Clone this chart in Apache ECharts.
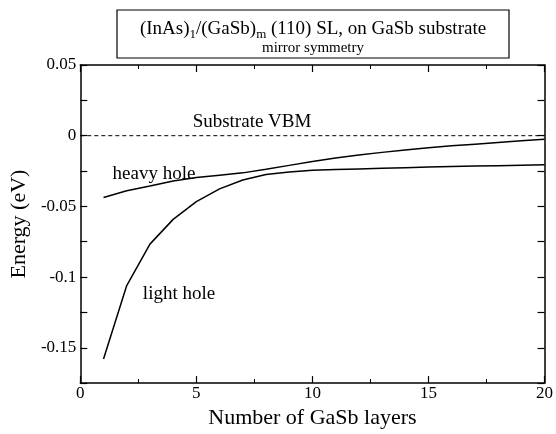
<!DOCTYPE html>
<html>
<head>
<meta charset="utf-8">
<script src="https://cdn.jsdelivr.net/npm/echarts@6/dist/echarts.min.js"></script>
<style>html,body{margin:0;padding:0;background:#fff}#c{width:556px;height:434px}</style>
</head>
<body>
<div id="c"></div>
<script>
const layers = [1,2,3,4,5,6,7,8,9,10,11,12,13,14,15,16,17,18,19,20];
const heavyHole = [-0.0437,-0.039,-0.0356,-0.032,-0.0295,-0.0279,-0.0263,-0.0238,-0.021,-0.0182,-0.0158,-0.0137,-0.0118,-0.0101,-0.0086,-0.0072,-0.006,-0.0048,-0.0036,-0.0025];
const lightHole = [-0.158,-0.106,-0.0767,-0.0592,-0.0467,-0.0376,-0.0313,-0.0274,-0.0256,-0.0245,-0.024,-0.0235,-0.023,-0.0226,-0.0222,-0.0218,-0.0215,-0.0212,-0.0209,-0.0206];
const vbmLevel = 0;
const xTicks = [0,5,10,15,20];
const yTicks = [0.05,0,-0.05,-0.1,-0.15];
const titleParts = [['(InAs)',0],['1',1],['/(GaSb)',0],['m',1],[' (110) SL, on GaSb substrate',0]];

const FONT = '"Liberation Serif","DejaVu Serif",serif';
const chart = echarts.init(document.getElementById('c'));
const pair = (xs, ys) => xs.map((x,i)=>[x, ys[i]]);
const fmt = v => { const r = Math.round(v*1000)/1000; return (Math.abs(r) < 1e-9) ? '0' : String(r); };

const line = {show:true,onZero:false,lineStyle:{color:'#000',width:1.5}};
const tick = {show:true,inside:true,length:7,lineStyle:{color:'#000',width:1.2}};
const minor = {show:true,splitNumber:2,length:4,lineStyle:{color:'#000',width:1}};

// title pieces with real subscripts
const ctx = document.createElement('canvas').getContext('2d');
const mainFont = '19px ' + FONT, subFont = '13px ' + FONT;
const widths = titleParts.map(p => { ctx.font = p[1] ? subFont : mainFont; return ctx.measureText(p[0]).width; });
const total = widths.reduce((a,b)=>a+b,0);
let cx = 313 - total/2;
const titleGraphics = titleParts.map((p,i) => {
  const g = {type:'text',x:cx,y:p[1]?35:29,z:11,style:{text:p[0],font:p[1]?subFont:mainFont,fill:'#000',align:'left',verticalAlign:'middle'}};
  cx += widths[i];
  return g;
});

chart.setOption({
  animation:false,
  backgroundColor:'#fff',
  grid:{left:78,right:7,top:65,bottom:38,containLabel:false},
  xAxis:[
    {type:'value',min:0,max:20,interval:5,position:'bottom',axisLine:line,axisTick:tick,minorTick:minor,splitLine:{show:false},
      name:'Number of GaSb layers',nameLocation:'middle',nameGap:16,
      nameTextStyle:{fontFamily:FONT,fontSize:22,color:'#000'},
      axisLabel:{fontFamily:FONT,fontSize:17,color:'#000',margin:2,
        formatter:v=>xTicks.includes(v)?String(v):''}},
    {type:'value',min:0,max:20,interval:5,position:'top',axisLine:line,axisTick:tick,minorTick:minor,splitLine:{show:false},axisLabel:{show:false}}
  ],
  yAxis:[
    {type:'value',min:-0.175,max:0.05,interval:0.025,position:'left',axisLine:line,axisTick:tick,splitLine:{show:false},
      name:'Energy (eV)',nameLocation:'middle',nameGap:42,
      nameTextStyle:{fontFamily:FONT,fontSize:22,color:'#000'},
      axisLabel:{fontFamily:FONT,fontSize:17,color:'#000',margin:4,
        formatter:v=>{const r=Math.round(v*1000)/1000; return yTicks.some(t=>Math.abs(t-r)<1e-9)?fmt(r):'';}}},
    {type:'value',min:-0.175,max:0.05,interval:0.025,position:'right',axisLine:line,axisTick:tick,splitLine:{show:false},axisLabel:{show:false}}
  ],
  series:[
    {type:'line',name:'heavy hole',data:pair(layers,heavyHole),showSymbol:false,symbol:'none',
      lineStyle:{color:'#000',width:1.5}},
    {type:'line',name:'light hole',data:pair(layers,lightHole),showSymbol:false,symbol:'none',
      lineStyle:{color:'#000',width:1.5}},
    {type:'line',name:'Substrate VBM',data:[[0,vbmLevel],[20,vbmLevel]],showSymbol:false,symbol:'none',
      lineStyle:{color:'#000',width:1,type:[4,3]}}
  ],
  graphic:[
    {type:'rect',shape:{x:117,y:10,width:392,height:48},style:{fill:'#fff',stroke:'#000',lineWidth:1.2},z:10}
  ].concat(titleGraphics).concat([
    {type:'text',x:313,y:48,z:11,style:{text:'mirror symmetry',font:'15px '+FONT,fill:'#000',align:'center',verticalAlign:'middle'}},
    {type:'text',x:252,y:122,style:{text:'Substrate VBM',font:'19px '+FONT,fill:'#000',align:'center',verticalAlign:'middle'}},
    {type:'text',x:154,y:174,style:{text:'heavy hole',font:'19px '+FONT,fill:'#000',align:'center',verticalAlign:'middle'}},
    {type:'text',x:179,y:294,style:{text:'light hole',font:'19px '+FONT,fill:'#000',align:'center',verticalAlign:'middle'}}
  ])
});
</script>
</body>
</html>
